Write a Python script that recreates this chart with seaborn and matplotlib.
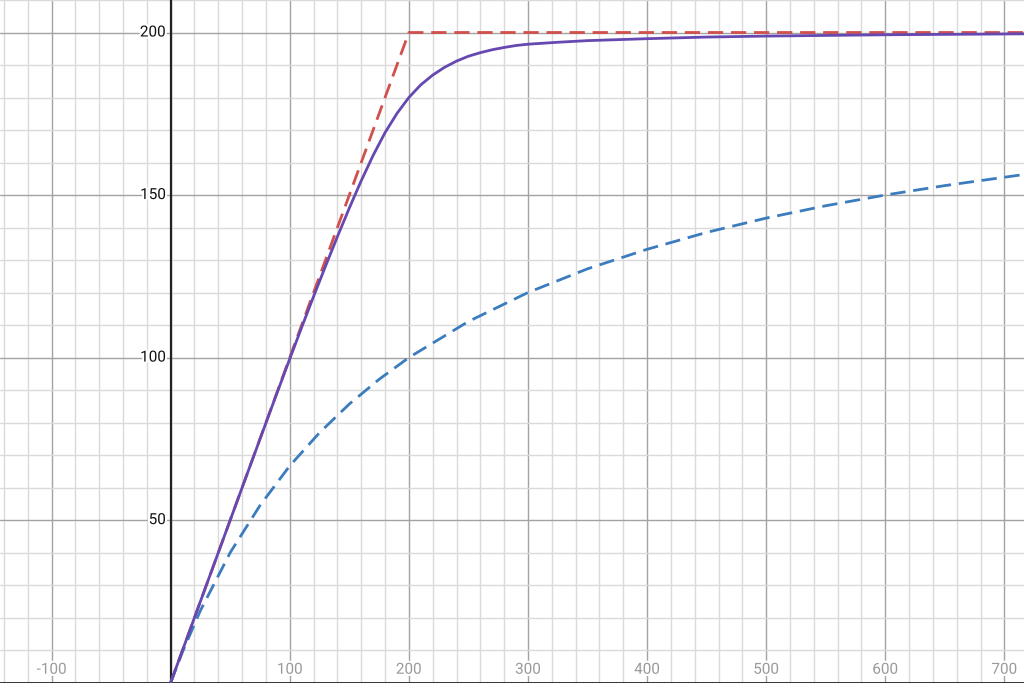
import numpy as np
import pandas as pd
import matplotlib
matplotlib.use("Agg")
import matplotlib.pyplot as plt
import matplotlib.patheffects as pe
import seaborn as sns

# values
red_x = [0, 200, 720]
red_y = [0, 200, 200]

blue_x = [0, 10, 25, 50, 75, 100, 125, 150, 175, 200, 250, 300, 350, 400,
          450, 500, 550, 600, 650, 720]
blue_y = [0, 9.5, 22.2, 40.0, 54.5, 66.7, 76.9, 85.7, 93.3, 100.0, 111.1,
          120.0, 127.3, 133.3, 138.5, 142.9, 146.7, 150.0, 152.9, 156.5]

purple_x = [0, 20, 40, 60, 80, 90, 100, 110, 120, 130, 140, 150, 160, 170,
            180, 190, 200, 210, 220, 230, 240, 250, 260, 270, 280, 290, 300,
            325, 350, 400, 450, 500, 600, 720]
purple_y = [0, 20, 40, 60, 79.9, 89.8, 99.6, 109.3, 118.8, 128.1, 137.2,
            146.0, 154.4, 162.2, 169.2, 175.1, 180.0, 183.9, 186.9, 189.3,
            191.2, 192.7, 193.8, 194.7, 195.4, 196.0, 196.4, 197.0, 197.5,
            198.1, 198.6, 198.9, 199.3, 199.6]

x_labels = [-100, 100, 200, 300, 400, 500, 600, 700]
y_labels = [50, 100, 150, 200]

sns.set_theme(style="white")
plt.rcParams["font.family"] = ["Roboto", "DejaVu Sans"]

fig = plt.figure(figsize=(10.24, 6.83), dpi=100)
ax = fig.add_axes([0, 0, 1, 1])

ax.set_xlim(-143.3, 716.5)
ax.set_ylim(-0.12, 210.0)

# grid
ax.set_xticks(np.arange(-100, 701, 100))
ax.set_xticks(np.arange(-140, 717, 20), minor=True)
ax.set_yticks(np.arange(0, 201, 50))
ax.set_yticks(np.arange(0, 211, 10), minor=True)
ax.grid(which="minor", color="#dadada", lw=1.0)
ax.grid(which="major", color="#a3a3a3", lw=1.0)
ax.tick_params(which="both", length=0, labelbottom=False, labelleft=False)
for s in ax.spines.values():
    s.set_visible(False)
ax.set_axisbelow(True)

ax.axvline(0, color="#222222", lw=1.6, zorder=2)
ax.axhline(0, color="#222222", lw=2.0, zorder=2)

# curves
sns.lineplot(x=red_x, y=red_y, ax=ax, color="#d0504c", lw=2.0, zorder=3)
ax.lines[-1].set_dashes((5.5, 2.8))
sns.lineplot(x=blue_x, y=blue_y, ax=ax, color="#3b7cbf", lw=2.0, zorder=4)
ax.lines[-1].set_dashes((5.5, 2.8))
sns.lineplot(x=purple_x, y=purple_y, ax=ax, color="#6548b0", lw=2.0, zorder=5)

halo = [pe.withStroke(linewidth=3, foreground="white")]
for v in y_labels:
    ax.text(-4, v, str(v), ha="right", va="center", fontsize=11,
            color="#111111", path_effects=halo, zorder=6)
for v in x_labels:
    ax.text(v, 1.8, str(v), ha="center", va="bottom", fontsize=11,
            color="#9a9a9a", path_effects=halo, zorder=6)

fig.savefig("out.png", dpi=100)
